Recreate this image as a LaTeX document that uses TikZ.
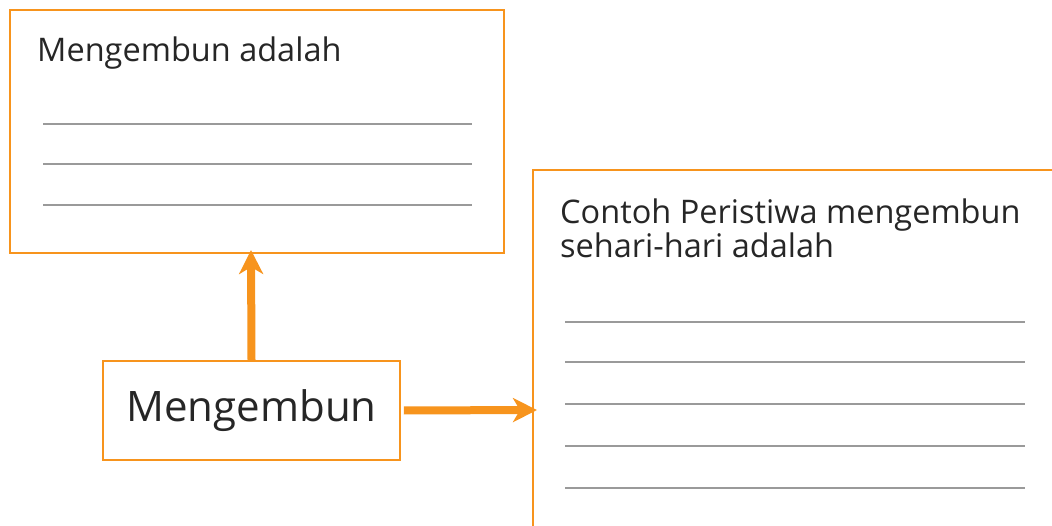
\documentclass[tikz,border=0pt]{standalone}
\usepackage{fontspec}
\setmainfont{Open Sans}
\usetikzlibrary{arrows.meta}
\definecolor{org}{HTML}{F7941D}
\definecolor{ln}{HTML}{9A9A9A}
\tikzset{
  box/.style={draw=org, line width=1.8pt},
  wline/.style={draw=ln, line width=1.3pt},
  arr/.style={draw=org, line width=8pt, -{Stealth[length=24pt,width=24pt,inset=7pt]}},
  txt/.style={anchor=base west, inner sep=0pt, text=black!85}
}
\begin{document}
\begin{tikzpicture}[x=1pt,y=-1pt]
\useasboundingbox (0,0) rectangle (1052,526);
% box 1
\draw[box] (10,10) rectangle (504,253);
\coordinate (b1s) at (251,253);
\node[txt, font=\fontsize{32.5}{36}\selectfont] (t1) at (37,62) {Mengembun adalah};
\foreach \y in {124,164,205} \draw[wline] (43,\y) -- (472,\y);
% box 2
\draw[box] (1060,170) -- (533,170) -- (533,535);
\coordinate (b2w) at (537,410);
\node[txt, font=\fontsize{32.5}{36}\selectfont] (t2) at (560,224) {Contoh Peristiwa mengembun};
\node[txt, font=\fontsize{32.5}{36}\selectfont] (t3) at (560,258) {sehari-hari adalah};
\foreach \y in {322,362,404,446,488} \draw[wline] (565,\y) -- (1025,\y);
% main node
\node[box, minimum width=297pt, minimum height=99pt, inner sep=0pt, font=\fontsize{42}{50}\selectfont, text=black!85] (m) at (251.5,410.5) {Mengembun};
% arrows
\draw[arr] (m.north) -- ([yshift=3pt]b1s);
\draw[arr] ([xshift=3pt]m.east) -- (b2w);
\end{tikzpicture}
\end{document}
